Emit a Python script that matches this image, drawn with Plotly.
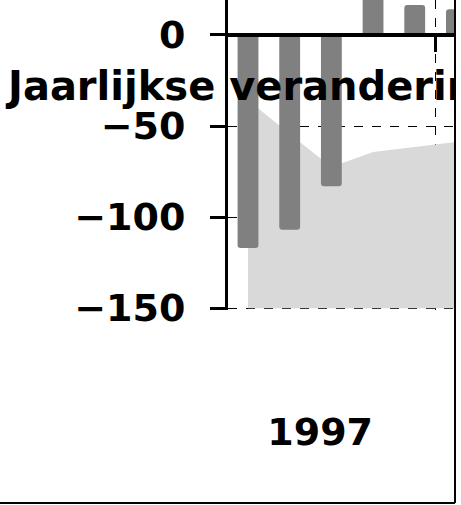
import plotly.graph_objects as go

# ---- data ----
periods = [0, 1, 2, 3, 4, 5, 6]
bar_values = [-117, -107, -83, 28, 16.5, 14.1, 12]
area_upper = [-35.7, -54.4, -72.5, -64.3, -61.5, -58.8, -57.5]
area_floor = [-150, -150, -150, -150, -150, -150, -150]
year_label_pos = [1.73]
year_labels = ["1997"]
year_boundary = [4.5]
y_ticks = [-150, -100, -50, 0]

title_text = "Jaarlijkse verandering"

FONT = "DejaVu Sans"
FS = 38
W, H = 456, 504
L, T = 228, 0
PLOT_H = 310
B = H - T - PLOT_H
Y_RANGE = [-151, 19.2]
X_RANGE = [-0.48, 4.99]

fig = go.Figure()

# light grey area (base subplot)
fig.add_trace(go.Scatter(x=periods, y=area_floor, mode="lines",
                         line=dict(width=0, color="#d9d9d9"),
                         showlegend=False, hoverinfo="skip",
                         xaxis="x", yaxis="y"))
fig.add_trace(go.Scatter(x=periods, y=area_upper, mode="lines",
                         line=dict(width=0, color="#d9d9d9"),
                         fill="tonexty", fillcolor="#d9d9d9",
                         showlegend=False, xaxis="x", yaxis="y"))

# bars (overlay subplot, drawn above the area)
fig.add_trace(go.Bar(x=periods, y=bar_values, width=0.5,
                     marker=dict(color="#808080", cornerradius=3,
                                 line=dict(width=0)),
                     showlegend=False, xaxis="x2", yaxis="y2"))

zero_pos = (0 - Y_RANGE[0]) / (Y_RANGE[1] - Y_RANGE[0])
bold = dict(family=FONT, size=FS, color="black", weight="bold")
title_font = dict(family=FONT, size=40, color="black", weight="bold")

fig.update_layout(
    width=W, height=H,
    margin=dict(l=L, r=0, t=T, b=B, pad=0),
    paper_bgcolor="white", plot_bgcolor="white",
    showlegend=False,
    font=bold,
    title=dict(text=title_text, x=8 / W, xanchor="left", xref="container",
               y=1 - 86 / H, yanchor="middle", yref="container",
               font=title_font),
    xaxis=dict(range=X_RANGE, anchor="free", position=zero_pos,
               showline=True, linecolor="black", linewidth=4,
               tickmode="array", tickvals=year_boundary, showticklabels=False,
               ticks="outside", ticklen=15, tickwidth=3, tickcolor="black",
               showgrid=True, gridcolor="black", gridwidth=1, griddash="dash",
               zeroline=False),
    yaxis=dict(range=Y_RANGE, tickmode="array", tickvals=y_ticks,
               showline=True, linecolor="black", linewidth=3,
               ticks="outside", ticklen=15, tickwidth=3, tickcolor="black",
               ticklabelstandoff=17, tickfont=bold,
               showgrid=True, gridcolor="black", gridwidth=1, griddash="dash",
               zeroline=False),
    xaxis2=dict(range=X_RANGE, overlaying="x", anchor="y2",
                tickmode="array", tickvals=year_label_pos, ticktext=year_labels,
                ticks="", showline=False, showgrid=False, zeroline=False,
                ticklabelstandoff=96, tickfont=bold),
    yaxis2=dict(range=Y_RANGE, overlaying="y", showticklabels=False,
                ticks="", showline=False, showgrid=False, zeroline=False),
)

# frame on right and bottom edges
bx = (455 - L) / (W - L)
by = -(503 - PLOT_H) / PLOT_H
fig.add_shape(type="line", xref="paper", yref="paper",
              x0=bx, x1=bx, y0=1.0 + 5 / PLOT_H, y1=by,
              line=dict(color="black", width=2), layer="above")
fig.add_shape(type="line", xref="paper", yref="paper",
              x0=-L / (W - L) - 0.05, x1=bx, y0=by, y1=by,
              line=dict(color="black", width=2), layer="above")

fig.write_html("out.html",
               config={"displayModeBar": False},
               post_script="document.body.style.margin='0';")
